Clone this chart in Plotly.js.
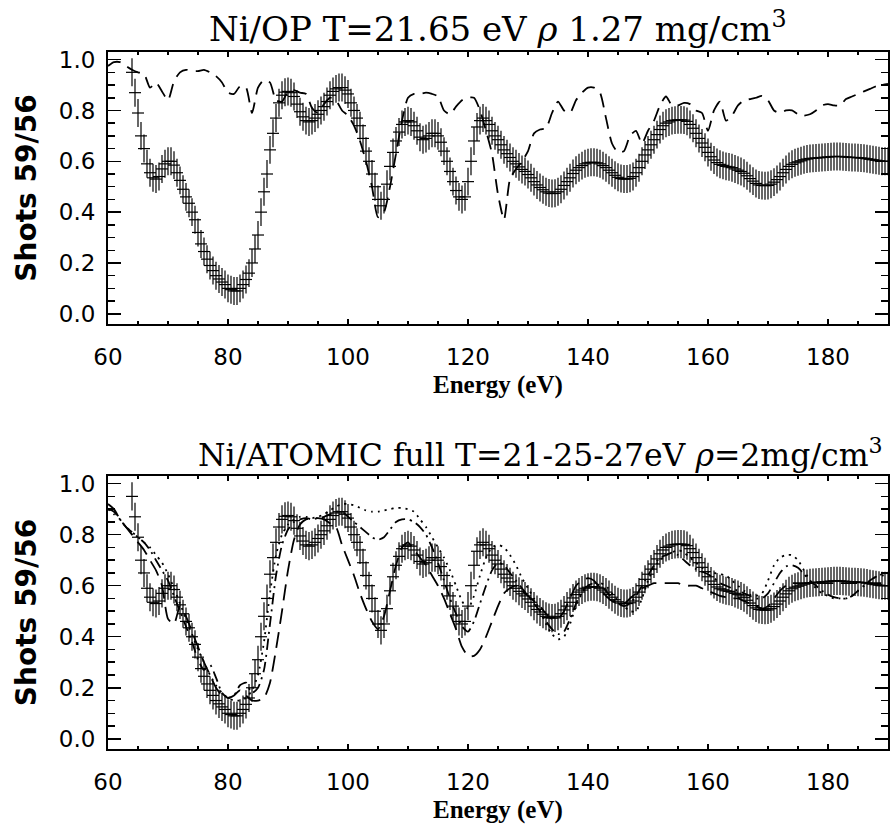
<!DOCTYPE html>
<html>
<head>
<meta charset="utf-8">
<script src="https://cdn.plot.ly/plotly-3.0.1.min.js"></script>
<style>html,body{margin:0;padding:0;background:#fff;}#chart{width:892px;height:825px;}</style>
</head>
<body>
<div id="chart"></div>
<script>
// ---------- DATA ----------
// Experimental transmission (shots 59/56), energy grid starts at 64 eV, step 0.5 eV
const expStart = 64;
const expStep = 0.5;
const expValues = [
  0.95,0.87,0.79,0.70,0.65,0.59,0.555,0.535,0.53,0.54,
  0.57,0.59,0.60,0.60,0.585,0.555,0.525,0.49,0.46,0.435,
  0.40,0.37,0.32,0.275,0.245,0.215,0.19,0.17,0.15,0.137,
  0.125,0.115,0.10,0.095,0.09,0.09,0.10,0.115,0.135,0.16,
  0.20,0.255,0.31,0.40,0.48,0.55,0.645,0.71,0.77,0.83,
  0.86,0.872,0.875,0.87,0.855,0.825,0.795,0.775,0.76,0.755,
  0.76,0.77,0.785,0.80,0.815,0.835,0.86,0.875,0.885,0.89,
  0.89,0.88,0.865,0.83,0.80,0.77,0.74,0.69,0.64,0.60,
  0.55,0.50,0.45,0.425,0.45,0.51,0.58,0.635,0.68,0.715,
  0.745,0.755,0.76,0.755,0.74,0.72,0.695,0.685,0.69,0.70,
  0.71,0.71,0.70,0.675,0.64,0.60,0.56,0.52,0.485,0.46,
  0.45,0.46,0.52,0.60,0.68,0.735,0.76,0.77,0.76,0.745,
  0.72,0.70,0.685,0.665,0.645,0.63,0.615,0.60,0.59,0.578,
  0.568,0.56,0.548,0.535,0.52,0.507,0.497,0.488,0.48,0.475,
  0.473,0.474,0.48,0.49,0.505,0.52,0.535,0.552,0.565,0.575,
  0.583,0.59,0.594,0.596,0.596,0.594,0.59,0.583,0.575,0.565,
  0.555,0.545,0.537,0.532,0.53,0.53,0.533,0.54,0.555,0.575,
  0.60,0.625,0.645,0.665,0.685,0.705,0.725,0.74,0.75,0.755,
  0.76,0.762,0.763,0.763,0.762,0.757,0.745,0.73,0.71,0.69,
  0.672,0.655,0.635,0.618,0.605,0.595,0.588,0.584,0.58,0.578,
  0.575,0.57,0.565,0.56,0.553,0.543,0.532,0.522,0.513,0.507,
  0.505,0.504,0.505,0.51,0.518,0.528,0.54,0.555,0.568,0.58,
  0.588,0.594,0.598,0.602,0.606,0.609,0.611,0.612,0.613,0.614,
  0.615,0.616,0.617,0.618,0.619,0.619,0.619,0.618,0.617,0.616,
  0.615,0.615,0.614,0.613,0.612,0.61,0.608,0.606,0.604,0.602,
  0.60,0.60,0.60
];
const expErrY = 0.055;   // vertical error half-width
const expErrX = 1.0;     // horizontal bar half-width (eV)

// Model curves, energy grid 60..190 eV, step 1 eV
const modelStart = 60;
const modelStep = 1;
// Top panel: OP model, T=21.65 eV, rho 1.27 mg/cm3
const opModel = [
  0.975,0.99,0.99,0.975,0.96,0.95,0.945,0.89,0.91,0.875,   // 60-69
  0.84,0.915,0.95,0.96,0.955,0.955,0.96,0.95,0.935,0.91,   // 70-79
  0.87,0.865,0.895,0.89,0.79,0.89,0.92,0.91,0.84,0.835,    // 80-89
  0.875,0.88,0.87,0.865,0.81,0.79,0.825,0.85,0.84,0.80,    // 90-99
  0.78,0.74,0.68,0.60,0.50,0.38,0.40,0.50,0.63,0.76,       // 100-109
  0.85,0.865,0.865,0.87,0.865,0.855,0.80,0.785,0.815,0.84, // 110-119
  0.85,0.85,0.80,0.72,0.63,0.47,0.37,0.53,0.57,0.60,       // 120-129
  0.64,0.71,0.725,0.73,0.79,0.835,0.80,0.79,0.84,0.87,     // 130-139
  0.89,0.89,0.87,0.77,0.67,0.635,0.64,0.70,0.72,0.67,      // 140-149
  0.72,0.76,0.82,0.855,0.82,0.82,0.83,0.825,0.80,0.79,     // 150-159
  0.72,0.80,0.835,0.76,0.78,0.82,0.84,0.845,0.85,0.857,    // 160-169
  0.84,0.80,0.79,0.80,0.80,0.785,0.78,0.785,0.80,0.82,     // 170-179
  0.825,0.82,0.82,0.845,0.855,0.865,0.875,0.885,0.895,0.90,// 180-189
  0.905                                                     // 190
];
// Bottom panel: ATOMIC full, T = 21, 25, 27 eV, rho = 2 mg/cm3
const atomicDashed = [
  0.92,0.90,0.86,0.83,0.80,0.77,0.74,0.70,0.66,0.60,
  0.47,0.45,0.52,0.48,0.42,0.36,0.30,0.25,0.20,0.17,
  0.16,0.17,0.19,0.17,0.15,0.15,0.16,0.22,0.35,0.50,
  0.66,0.78,0.84,0.86,0.865,0.865,0.86,0.845,0.83,0.76,
  0.70,0.64,0.57,0.51,0.46,0.43,0.48,0.58,0.68,0.75,
  0.77,0.74,0.71,0.68,0.64,0.60,0.55,0.49,0.43,0.36,
  0.325,0.325,0.35,0.40,0.46,0.52,0.57,0.59,0.60,0.58,
  0.56,0.54,0.52,0.49,0.47,0.47,0.50,0.55,0.60,0.62,
  0.63,0.62,0.59,0.56,0.54,0.53,0.53,0.55,0.57,0.59,
  0.60,0.61,0.61,0.61,0.61,0.61,0.60,0.60,0.60,0.59,
  0.58,0.57,0.56,0.555,0.55,0.55,0.54,0.53,0.52,0.51,
  0.52,0.55,0.58,0.60,0.61,0.61,0.61,0.61,0.61,0.61,
  0.61,0.61,0.61,0.61,0.61,0.61,0.61,0.61,0.61,0.61,
  0.61
];
const atomicDashDot = [
  0.90,0.89,0.86,0.83,0.81,0.79,0.77,0.74,0.70,0.66,
  0.62,0.56,0.50,0.44,0.38,0.31,0.27,0.29,0.24,0.18,
  0.16,0.17,0.21,0.22,0.18,0.20,0.27,0.45,0.64,0.76,
  0.82,0.85,0.86,0.865,0.86,0.865,0.87,0.88,0.89,0.89,
  0.87,0.85,0.83,0.81,0.79,0.78,0.79,0.82,0.85,0.86,
  0.86,0.85,0.83,0.80,0.75,0.69,0.62,0.55,0.49,0.44,
  0.42,0.46,0.53,0.60,0.66,0.69,0.68,0.65,0.62,0.59,
  0.56,0.53,0.50,0.46,0.43,0.41,0.42,0.47,0.53,0.58,
  0.60,0.61,0.60,0.58,0.55,0.53,0.52,0.53,0.56,0.60,
  0.64,0.68,0.71,0.72,0.73,0.72,0.70,0.68,0.665,0.655,
  0.645,0.63,0.61,0.60,0.59,0.58,0.57,0.56,0.55,0.55,
  0.57,0.61,0.65,0.675,0.68,0.67,0.645,0.62,0.60,0.58,
  0.565,0.555,0.55,0.55,0.56,0.58,0.60,0.62,0.635,0.64,
  0.64
];
const atomicDotted = [
  0.90,0.88,0.86,0.83,0.81,0.79,0.77,0.75,0.72,0.69,
  0.645,0.59,0.53,0.47,0.41,0.35,0.30,0.25,0.21,0.18,
  0.16,0.15,0.15,0.16,0.19,0.25,0.38,0.57,0.72,0.80,
  0.84,0.86,0.87,0.87,0.865,0.87,0.88,0.895,0.91,0.92,
  0.92,0.915,0.905,0.895,0.89,0.89,0.895,0.90,0.905,0.905,
  0.90,0.89,0.86,0.83,0.79,0.75,0.71,0.66,0.60,0.54,
  0.51,0.56,0.64,0.71,0.75,0.76,0.75,0.72,0.68,0.63,
  0.59,0.55,0.50,0.45,0.41,0.39,0.40,0.45,0.52,0.57,
  0.60,0.61,0.61,0.60,0.57,0.54,0.52,0.50,0.50,0.55,
  0.62,0.67,0.70,0.72,0.73,0.74,0.73,0.71,0.69,0.67,
  0.655,0.65,0.645,0.64,0.62,0.60,0.58,0.565,0.56,0.57,
  0.62,0.68,0.71,0.72,0.72,0.70,0.66,0.62,0.59,0.57,
  0.56,0.55,0.55,0.55,0.56,0.58,0.60,0.62,0.635,0.645,
  0.65
];

const topTitle = 'Ni/OP T=21.65 eV <i>ρ</i> 1.27 mg/cm<sup>3</sup>';
const bottomTitle = 'Ni/ATOMIC full T=21-25-27eV <i>ρ</i>=2mg/cm<sup>3</sup>';
const xTitle = 'Energy (eV)';
const yTitle = 'Shots 59/56';

// ---------- TRACES ----------
function expTrace(xa, ya) {
  return {
    type: 'scatter', mode: 'markers', xaxis: xa, yaxis: ya,
    x0: expStart, dx: expStep, y: expValues,
    marker: {size: 1, color: 'rgba(0,0,0,0)'},
    error_y: {type: 'constant', value: expErrY, width: 0, thickness: 1.2, color: '#000'},
    error_x: {type: 'constant', value: expErrX, width: 0, thickness: 1.2, color: '#000'},
    hoverinfo: 'skip', showlegend: false
  };
}
function modelTrace(vals, dash, xa, ya) {
  return {
    type: 'scatter', mode: 'lines', xaxis: xa, yaxis: ya,
    x0: modelStart, dx: modelStep, y: vals,
    line: {color: '#000', width: 1.8, dash: dash, shape: 'spline', smoothing: 0.6},
    hoverinfo: 'skip', showlegend: false
  };
}

const data = [
  expTrace('x', 'y'),
  modelTrace(opModel, '14px,8px', 'x', 'y'),
  expTrace('x2', 'y2'),
  modelTrace(atomicDashed, '16px,8px', 'x2', 'y2'),
  modelTrace(atomicDashDot, '11px,5px,2px,5px', 'x2', 'y2'),
  modelTrace(atomicDotted, '2px,5px', 'x2', 'y2')
];

// ---------- LAYOUT ----------
const tickFont = {family: 'DejaVu Sans, sans-serif', size: 23, color: '#000'};
const xTitleFont = {family: 'Liberation Serif, serif', size: 25, color: '#000'};
const yTitleFont = {family: 'DejaVu Sans, sans-serif', size: 28, color: '#000'};

function xAxis(anchor) {
  return {
    anchor: anchor, range: [60, 190], tickmode: 'linear', tick0: 60, dtick: 20,
    ticks: 'inside', ticklen: 5, tickwidth: 1.5, tickcolor: '#000',
    minor: {ticks: 'inside', dtick: 5, ticklen: 3, tickwidth: 1.5, tickcolor: '#000'},
    showline: true, linewidth: 2, linecolor: '#000', mirror: 'allticks',
    showgrid: false, zeroline: false, tickfont: tickFont,
    ticklabelstandoff: 11
  };
}
function yAxis(anchor, domain) {
  return {
    anchor: anchor, domain: domain, range: [-0.04, 1.03], tickmode: 'linear', tick0: 0, dtick: 0.2,
    tickformat: '.1f',
    ticks: 'inside', ticklen: 13, tickwidth: 1.5, tickcolor: '#000',
    minor: {ticks: 'inside', dtick: 0.05, ticklen: 7, tickwidth: 1.5, tickcolor: '#000'},
    showline: true, linewidth: 2, linecolor: '#000', mirror: 'allticks',
    showgrid: false, zeroline: false, tickfont: tickFont,
    ticklabelstandoff: 6,
    title: {text: '<b>' + yTitle + '</b>', font: yTitleFont, standoff: 14}
  };
}

const layout = {
  width: 892, height: 825,
  margin: {l: 108, r: 4, t: 52, b: 76},
  paper_bgcolor: '#fff', plot_bgcolor: '#fff',
  showlegend: false,
  xaxis: xAxis('y'),
  yaxis: yAxis('x', [0.6098, 1]),
  xaxis2: xAxis('y2'),
  yaxis2: yAxis('x2', [0, 0.3917]),
  annotations: [
    {text: topTitle, xref: 'paper', yref: 'paper', x: 0.5, y: 1.036, xanchor: 'center', yanchor: 'middle',
     showarrow: false, font: {family: 'DejaVu Serif, serif', size: 34, color: '#000'}},
    {text: bottomTitle, xref: 'paper', yref: 'paper', x: 0.554, y: 0.424, xanchor: 'center', yanchor: 'middle',
     showarrow: false, font: {family: 'DejaVu Serif, serif', size: 31.5, color: '#000'}},
    {text: '<b>' + xTitle + '</b>', xref: 'paper', yref: 'paper', x: 0.5, y: 0.5222, xanchor: 'center', yanchor: 'middle',
     showarrow: false, font: xTitleFont},
    {text: '<b>' + xTitle + '</b>', xref: 'paper', yref: 'paper', x: 0.5, y: -0.0875, xanchor: 'center', yanchor: 'middle',
     showarrow: false, font: xTitleFont}
  ]
};

Plotly.newPlot('chart', data, layout, {staticPlot: true, displayModeBar: false});
</script>
</body>
</html>
